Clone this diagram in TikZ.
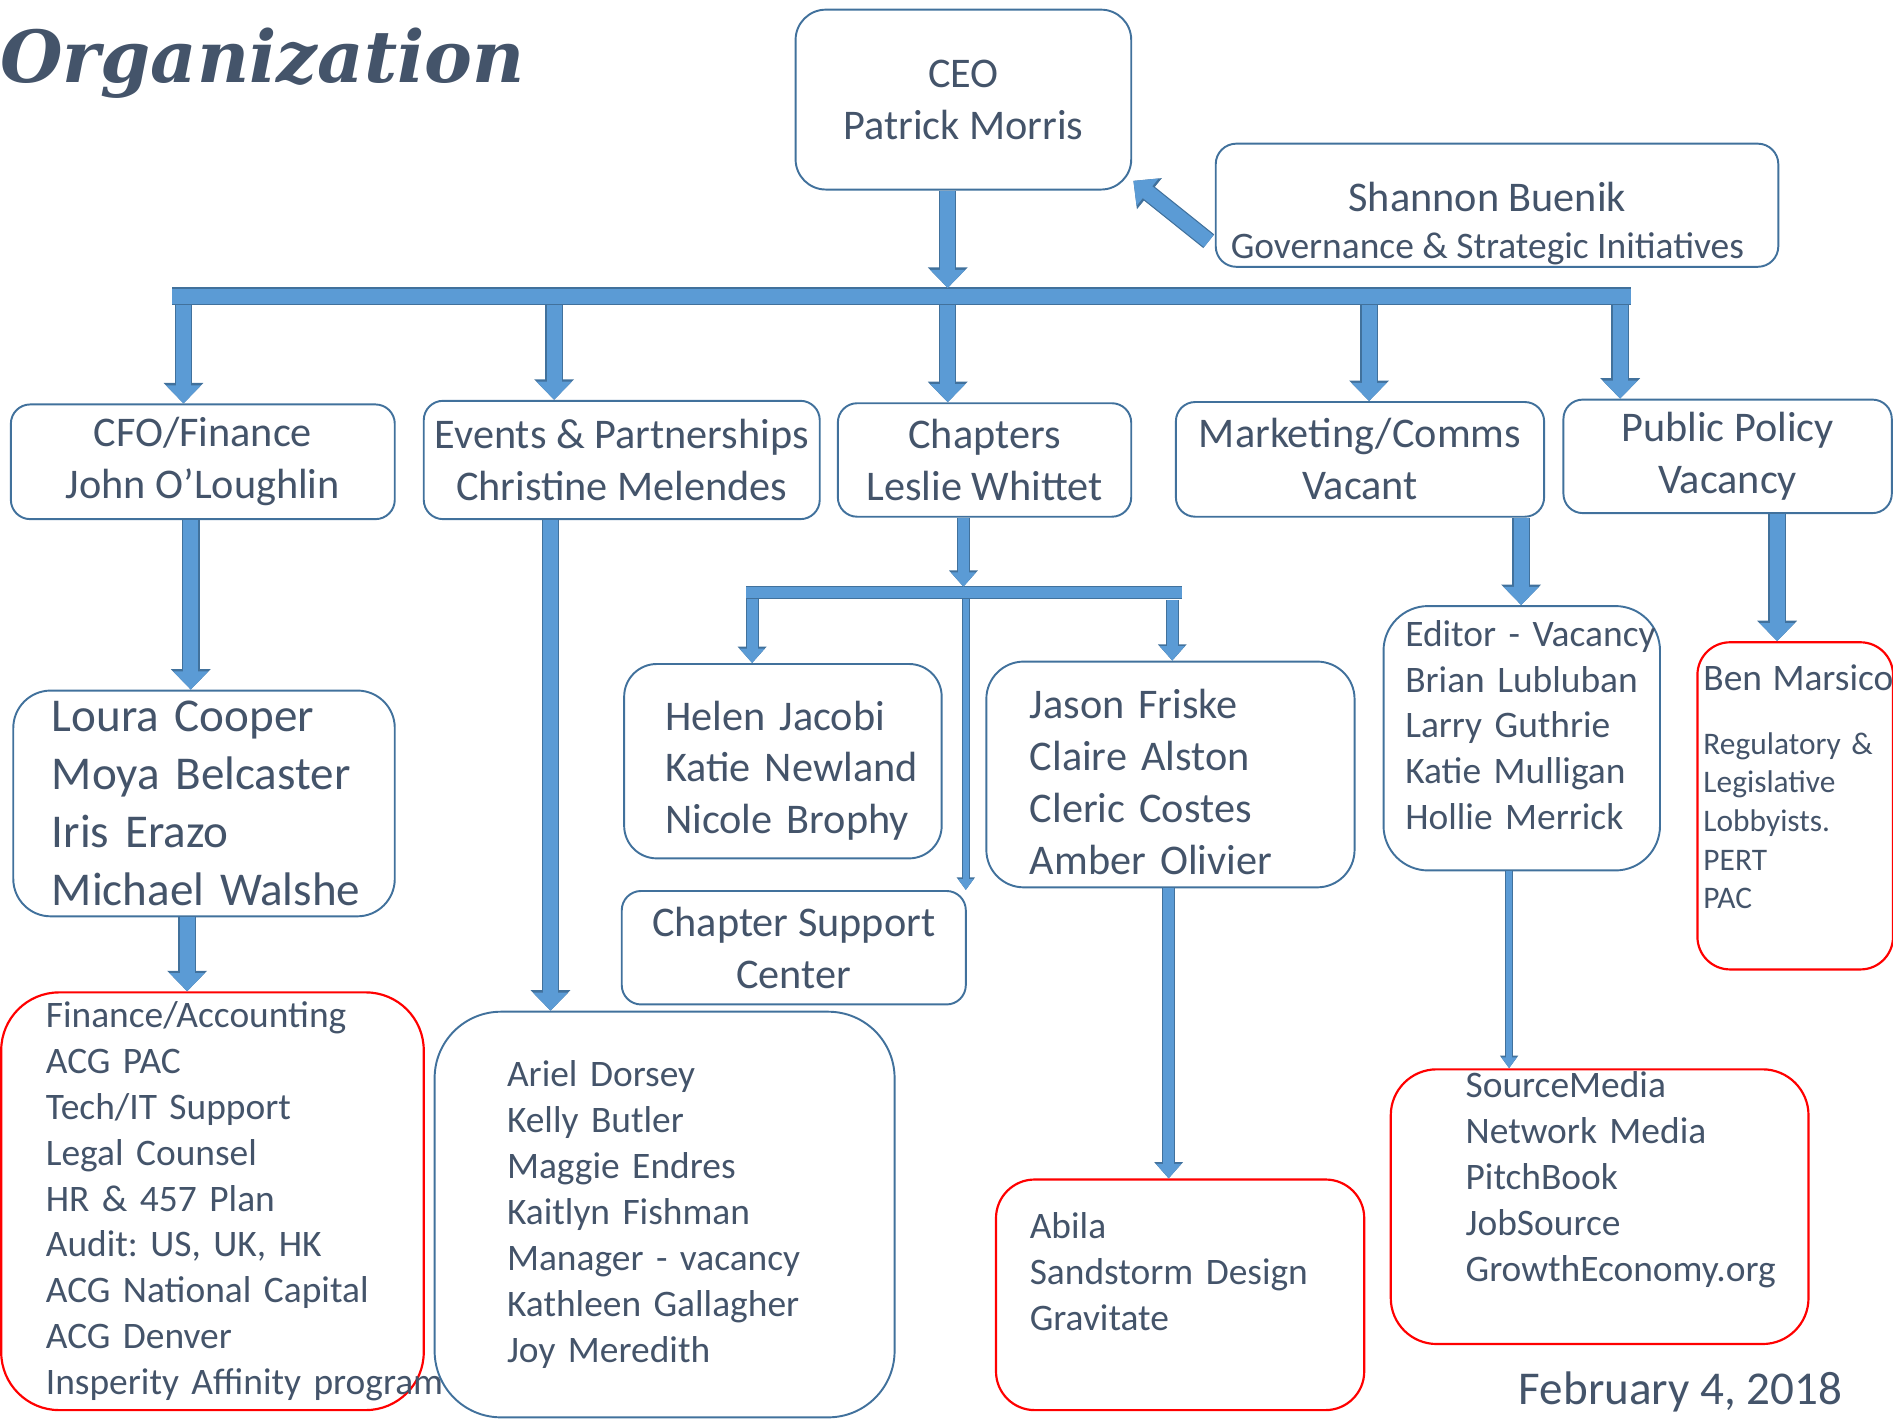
\documentclass[tikz,border=0pt]{standalone}
\usepackage{fontspec}
\setmainfont{Carlito}
\newfontfamily\titlefont{DejaVu Serif}
\usetikzlibrary{arrows.meta, positioning, calc}
\frenchspacing

\definecolor{ink}{HTML}{44546A}
\definecolor{boxline}{HTML}{41719C}
\definecolor{redline}{HTML}{FF0000}
\definecolor{arrowfill}{HTML}{5B9BD5}
\definecolor{arrowline}{HTML}{41719C}

\begin{document}
\begin{tikzpicture}[
  x=1pt, y=-1pt,
  box/.style={rectangle, rounded corners=16pt, draw=boxline, line width=1.6pt, text=ink, align=center, inner sep=4pt, font=\fontsize{35}{43}\selectfont},
  list/.style={box, align=left, inner xsep=0pt, inner ysep=2pt, execute at begin node={\leftskip=#1}},
  vendor/.style={draw=redline, line width=1.8pt},
  smalltext/.style={font=\fontsize{31}{38}\selectfont},
  bigtext/.style={font=\fontsize{39}{48}\selectfont},
  hub/.style={draw=arrowfill, line width=13pt, preaction={draw=arrowline, line width=15pt}},
  subhub/.style={draw=arrowfill, line width=9pt, preaction={draw=arrowline, line width=11pt}},
  blockarrow/.style={draw=arrowfill, line width=12.5pt, -{Triangle[width=28pt, length=15pt]}, preaction={draw=arrowline, line width=14.5pt, -{Triangle[width=32pt, length=17pt]}}},
  midarrow/.style={draw=arrowfill, line width=9pt, -{Triangle[width=20pt, length=12pt]}, preaction={draw=arrowline, line width=11pt, -{Triangle[width=23pt, length=13.5pt]}}},
  thinarrow/.style={draw=arrowfill, line width=5pt, -{Triangle[width=12pt, length=9pt]}, preaction={draw=arrowline, line width=6.5pt, -{Triangle[width=14.5pt, length=10.5pt]}}}]

  \useasboundingbox (0,0) rectangle (1568,1175);

  % Title
  \node (title) [anchor=base west, inner sep=0pt, text=ink, font=\titlefont\bfseries\itshape\fontsize{59.5}{60}\selectfont] at (0,68) {Organization};

  % Nodes
  \node (ceo) [box, minimum width=278pt, minimum height=149pt, rounded corners=25pt] at (798,82.5) {CEO\\Patrick Morris};
  \node (govern) [box, inner ysep=0pt, minimum width=466pt, minimum height=102pt, rounded corners=17pt] at (1240,170) {\rule{0pt}{55pt}Shannon Buenik\hspace*{16pt}\\[-4pt]{\fontsize{31}{38}\selectfont Governance \& Strategic Initiatives}\hspace*{16pt}};

  \node (cfo) [box, minimum width=318pt, minimum height=95pt] at (168,382.5) {CFO/Finance\\John O’Loughlin};
  \node (events) [box, minimum width=328pt, minimum height=98pt] at (515,381) {Events \& Partnerships\\Christine Melendes};
  \node (chapters) [box, minimum width=243pt, minimum height=94pt] at (815.5,381) {Chapters\\Leslie Whittet};
  \node (marketing) [box, minimum width=305pt, minimum height=95pt] at (1126.5,380.5) {Marketing/Comms\\Vacant};
  \node (policy) [box, minimum width=272pt, minimum height=94pt] at (1431,378) {Public Policy\\Vacancy};

  \node (financeteam) [list=32pt, bigtext, text width=316pt, minimum height=187pt, rounded corners=31pt] at (169,665.5) {Loura Cooper\\Moya Belcaster\\Iris Erazo\\Michael Walshe};
  \node (financevendors) [list=37pt, vendor, smalltext, text width=350pt, minimum height=346pt, rounded corners=48pt] at (176,995) {Finance/Accounting\\ACG PAC\\Tech/IT Support\\Legal Counsel\\HR \& 457 Plan\\Audit: US, UK, HK\\ACG National Capital\\ACG Denver\\\mbox{Insperity Affinity program}};
  \node (eventsteam) [list=60pt, smalltext, text width=381pt, minimum height=336pt, rounded corners=55pt] at (550.5,1006) {Ariel Dorsey\\Kelly Butler\\Maggie Endres\\Kaitlyn Fishman\\Manager - vacancy\\Kathleen Gallagher\\Joy Meredith};

  \node (chapterteamA) [list=34pt, text width=263pt, minimum height=161pt, rounded corners=27pt] at (648.5,630.5) {\rule{0pt}{40pt}Helen Jacobi\\Katie Newland\\Nicole Brophy};
  \node (chapterteamB) [list=36pt, text width=305pt, minimum height=187pt, rounded corners=31pt] at (969.5,641.5) {\rule{0pt}{37pt}Jason Friske\\Claire Alston\\Cleric Costes\\Amber Olivier};
  \node (support) [box, minimum width=285pt, minimum height=94pt] at (657.5,785) {Chapter Support\\Center};
  \node (chaptervendors) [list=28pt, vendor, smalltext, text width=305pt, minimum height=191pt, rounded corners=32pt] at (977.5,1072.5) {Abila\\Sandstorm Design\\Gravitate\rule[-38pt]{0pt}{0pt}};

  \node (editors) [list=18pt, smalltext, text width=229pt, minimum height=219pt, rounded corners=37pt] at (1260.5,611.5) {Editor - Vacancy\\Brian Lubluban\\Larry Guthrie\\Katie Mulligan\\Hollie Merrick\rule[-22pt]{0pt}{0pt}};
  \node (mediavendors) [list=62pt, vendor, smalltext, text width=346pt, minimum height=227pt, rounded corners=38pt] at (1325,999.5) {SourceMedia\\Network Media\\PitchBook\\JobSource\\GrowthEconomy.org\rule[-50pt]{0pt}{0pt}};
  \node (lobby) [list=5pt, vendor, font=\fontsize{26}{32}\selectfont, text width=162pt, minimum height=271pt, rounded corners=27pt] at (1487,667.5) {\mbox{\fontsize{31}{38}\selectfont Ben Marsico}\\[21pt]Regulatory \&\\Legislative\\Lobbyists.\\PERT\\PAC\rule[-32pt]{0pt}{0pt}};

  \node (date) [anchor=base, inner sep=0pt, text=ink, font=\fontsize{39}{47}\selectfont] at (1392,1163) {February 4, 2018};

  % Arrows
  \coordinate (ceoin) at (785,238.5);
  \coordinate (hubL) at (142.5,245.5);
  \coordinate (hubR) at (1351,245.5);
  \coordinate (dcfo) at (152,252.5);
  \coordinate (devents) at (459,252.5);
  \coordinate (dchapters) at (785,252.5);
  \coordinate (dmarketing) at (1134,252.5);
  \coordinate (dpolicy) at (1342,252.5);

  \draw [hub] (hubL) -- (hubR);
  \draw [blockarrow] (ceo.south -| ceoin) -- (ceoin);
  \draw [blockarrow] ($(govern.south west)+(-5,-22)$) -- ($(ceo.south east)+(1,-8)$);
  \draw [blockarrow] (dcfo) -- (dcfo |- cfo.north);
  \draw [blockarrow] (devents) -- (devents |- events.north);
  \draw [blockarrow] (dchapters) -- (dchapters |- chapters.north);
  \draw [blockarrow] (dmarketing) -- (dmarketing |- marketing.north);
  \draw [blockarrow] (dpolicy) -- (dpolicy |- policy.north);

  \draw [blockarrow] ([xshift=-10pt]cfo.south) -- ([xshift=-10pt]cfo.south |- financeteam.north);
  \draw [blockarrow] ([xshift=-14pt]financeteam.south) -- ([xshift=-14pt]financeteam.south |- financevendors.north);
  \draw [blockarrow] ([xshift=-59pt]events.south) -- ([xshift=-59pt]events.south |- eventsteam.north);

  \coordinate (subin) at (798,486);
  \coordinate (subL) at (618,491);
  \coordinate (subR) at (979,491);
  \coordinate (sA) at (623,496);
  \coordinate (sB) at (971,497);
  \coordinate (sC) at (800,496);

  \draw [subhub] (subL) -- (subR);
  \draw [midarrow] (chapters.south -| subin) -- (subin);
  \draw [midarrow] (sA) -- (sA |- chapterteamA.north);
  \draw [midarrow] (sB) -- (sB |- chapterteamB.north);
  \draw [thinarrow] (sC) -- (sC |- support.north);
  \draw [midarrow] ([xshift=-1.5pt]chapterteamB.south) -- ([xshift=-1.5pt]chapterteamB.south |- chaptervendors.north);

  \draw [blockarrow] ([xshift=133.5pt]marketing.south) -- ([xshift=133.5pt]marketing.south |- editors.north);
  \draw [thinarrow] ([xshift=-10.5pt]editors.south) -- ([xshift=-10.5pt]editors.south |- mediavendors.north);
  \draw [blockarrow] ([xshift=41pt]policy.south) -- ([xshift=41pt]policy.south |- lobby.north);

\end{tikzpicture}
\end{document}
